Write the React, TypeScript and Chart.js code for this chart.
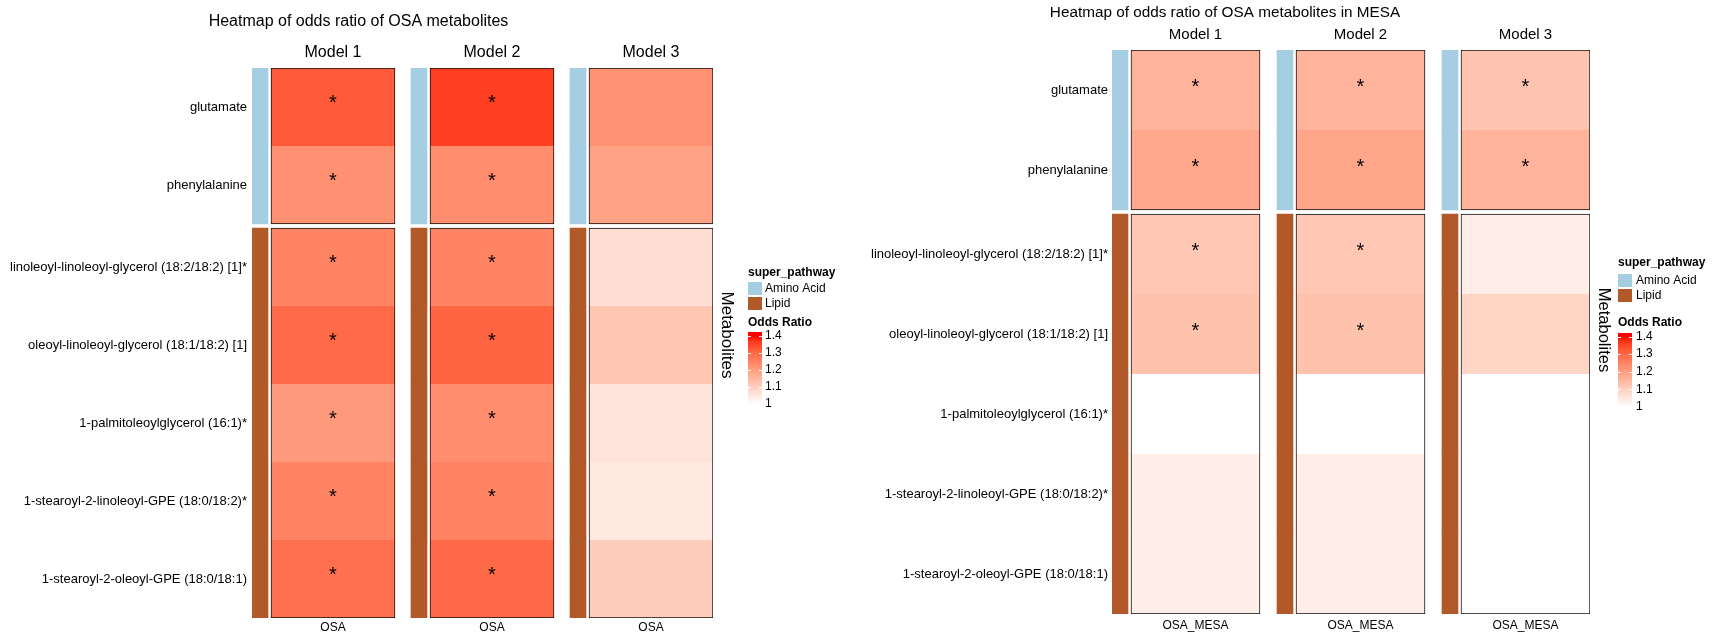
import React, { useEffect, useRef } from 'react';
import { Chart, registerables } from 'chart.js';

Chart.register(...registerables);

const FONT = '"Liberation Sans", Arial, Helvetica, sans-serif';

// ---------------- data ----------------
const metabolites = [
  'glutamate',
  'phenylalanine',
  'linoleoyl-linoleoyl-glycerol (18:2/18:2) [1]*',
  'oleoyl-linoleoyl-glycerol (18:1/18:2) [1]',
  '1-palmitoleoylglycerol (16:1)*',
  '1-stearoyl-2-linoleoyl-GPE (18:0/18:2)*',
  '1-stearoyl-2-oleoyl-GPE (18:0/18:1)',
];
const superPathway = ['Amino Acid', 'Amino Acid', 'Lipid', 'Lipid', 'Lipid', 'Lipid', 'Lipid'];
const models = ['Model 1', 'Model 2', 'Model 3'];
const pathwayLegend = ['Amino Acid', 'Lipid'];
const pathwayColors = ['#A6CEE3', '#B15928'];
const oddsTicks = [1.4, 1.3, 1.2, 1.1, 1];

// OSA (left panel)
const osaModel1 = [1.32, 1.226, 1.25, 1.296, 1.21, 1.25, 1.285];
const osaModel2 = [1.36, 1.233, 1.25, 1.306, 1.233, 1.25, 1.298];
const osaModel3 = [1.224, 1.193, 1.068, 1.12, 1.056, 1.047, 1.105];
const osaSig1 = [1, 1, 1, 1, 1, 1, 1];
const osaSig2 = [1, 1, 1, 1, 1, 1, 1];
const osaSig3 = [0, 0, 0, 0, 0, 0, 0];

// OSA in MESA (right panel)
const mesaModel1 = [1.157, 1.18, 1.117, 1.128, 0.99, 1.037, 1.037];
const mesaModel2 = [1.157, 1.185, 1.117, 1.128, 0.99, 1.037, 1.037];
const mesaModel3 = [1.124, 1.157, 1.035, 1.088, 0.99, 0.99, 0.99];
const mesaSig1 = [1, 1, 1, 1, 0, 0, 0];
const mesaSig2 = [1, 1, 1, 1, 0, 0, 0];
const mesaSig3 = [1, 1, 0, 0, 0, 0, 0];

// ---------------- colour (white -> red, LAB interpolation) ----------------
function srgbToLin(c: number) {
  c /= 255;
  return c <= 0.04045 ? c / 12.92 : Math.pow((c + 0.055) / 1.055, 2.4);
}
function linToSrgb(c: number) {
  c = Math.min(1, Math.max(0, c));
  const v = c <= 0.0031308 ? 12.92 * c : 1.055 * Math.pow(c, 1 / 2.4) - 0.055;
  return Math.round(v * 255);
}
const Xn = 0.95047, Yn = 1, Zn = 1.08883;
function toLab(rgb: number[]) {
  const [R, G, B] = rgb.map(srgbToLin);
  const X = 0.4124 * R + 0.3576 * G + 0.1805 * B;
  const Y = 0.2126 * R + 0.7152 * G + 0.0722 * B;
  const Z = 0.0193 * R + 0.1192 * G + 0.9505 * B;
  const f = (t: number) => (t > 0.008856 ? Math.cbrt(t) : 7.787 * t + 16 / 116);
  const fx = f(X / Xn), fy = f(Y / Yn), fz = f(Z / Zn);
  return [116 * fy - 16, 500 * (fx - fy), 200 * (fy - fz)];
}
function fromLab(lab: number[]) {
  const [L, a, b] = lab;
  const fy = (L + 16) / 116, fx = fy + a / 500, fz = fy - b / 200;
  const fi = (t: number) => (t * t * t > 0.008856 ? t * t * t : (t - 16 / 116) / 7.787);
  const X = Xn * fi(fx), Y = Yn * fi(fy), Z = Zn * fi(fz);
  const R = 3.2406 * X - 1.5372 * Y - 0.4986 * Z;
  const G = -0.9689 * X + 1.8758 * Y + 0.0415 * Z;
  const Bc = 0.0557 * X - 0.204 * Y + 1.057 * Z;
  return `rgb(${linToSrgb(R)},${linToSrgb(G)},${linToSrgb(Bc)})`;
}
const LOW_LAB = toLab([255, 255, 255]);
const HIGH_LAB = toLab([255, 0, 0]);
const ODDS_MIN = Math.min(...oddsTicks);
const ODDS_MAX = Math.max(...oddsTicks);
function oddsColor(v: number) {
  const t = Math.min(1, Math.max(0, (v - ODDS_MIN) / (ODDS_MAX - ODDS_MIN)));
  return fromLab(LOW_LAB.map((l, k) => l + (HIGH_LAB[k] - l) * t));
}

// ---------------- panel layouts ----------------
const leftCfg = {
  left: 0, width: 860, height: 634,
  plotLeft: 252, top: 68, rowPx: 78, gapPx: 4,
  annoW: 16, annoGap: 3, heatW: 124, colGap: 16,
  labelPad: 5, topPad: 6, bottomPad: 2,
  modelSize: 16, titleSize: 16, metabSize: 17, starDy: -4,
  values: [osaModel1, osaModel2, osaModel3],
  sig: [osaSig1, osaSig2, osaSig3],
  xLabel: 'OSA',
  title: 'Heatmap of odds ratio of OSA metabolites', titleX: 358.5, titleY: 22,
  metabX: 727, metabY: 335,
  legend: { x: 748, w: 14, textX: 765, pathTitleY: 273, swatchY: [282, 297], swatchH: 13,
    oddsTitleY: 323, barTop: 332, barBottom: 405, y14: 336, y1: 404 },
};
const rightCfg = {
  left: 860, width: 857, height: 634,
  plotLeft: 252, top: 50, rowPx: 80, gapPx: 4,
  annoW: 16, annoGap: 3, heatW: 129, colGap: 17,
  labelPad: 4, topPad: 6.5, bottomPad: 4,
  modelSize: 15, titleSize: 15.3, metabSize: 16.5, starDy: -2.5,
  values: [mesaModel1, mesaModel2, mesaModel3],
  sig: [mesaSig1, mesaSig2, mesaSig3],
  xLabel: 'OSA_MESA',
  title: 'Heatmap of odds ratio of OSA metabolites in MESA', titleX: 365, titleY: 12.5,
  metabX: 744, metabY: 330,
  legend: { x: 758, w: 14, textX: 776, pathTitleY: 263, swatchY: [274, 289], swatchH: 13,
    oddsTitleY: 323, barTop: 333, barBottom: 407, y14: 336.5, y1: 407 },
};

function buildConfig(cfg: any): any {
  const n = metabolites.length;
  const gapUnits = cfg.gapPx / cfg.rowPx;
  const groupIdx: number[] = [];
  let g = 0;
  superPathway.forEach((p, i) => {
    if (i > 0 && p !== superPathway[i - 1]) g++;
    groupIdx.push(g);
  });
  const nGroups = g + 1;
  const center = (i: number) => i + groupIdx[i] * gapUnits + 0.5;
  const yMax = n + (nGroups - 1) * gapUnits;
  const isGroupStart = (i: number) => i === 0 || superPathway[i] !== superPathway[i - 1];
  const isGroupEnd = (i: number) => i === n - 1 || superPathway[i] !== superPathway[i + 1];

  const period = cfg.annoW + cfg.annoGap + cfg.heatW + cfg.colGap;
  const xMax = models.length * period - cfg.colGap;
  const annoRange = (m: number) => [m * period, m * period + cfg.annoW];
  const heatStart = (m: number) => m * period + cfg.annoW + cfg.annoGap;
  const heatRange = (m: number) => [heatStart(m), heatStart(m) + cfg.heatW];
  const heatCenter = (m: number) => heatStart(m) + cfg.heatW / 2;

  const plotH = n * cfg.rowPx + (nGroups - 1) * cfg.gapPx;
  const plotBottom = cfg.top + plotH;
  const plotRight = cfg.plotLeft + xMax;

  const datasets: any[] = [];
  const heatIdx: number[] = [];
  models.forEach((model, m) => {
    datasets.push({
      label: `super_pathway ${model}`,
      data: metabolites.map((_, i) => ({ y: center(i), x: annoRange(m) })),
      backgroundColor: superPathway.map((p) => pathwayColors[pathwayLegend.indexOf(p)]),
      borderWidth: 0,
      barPercentage: 1,
      categoryPercentage: 1,
      grouped: false,
    });
    heatIdx.push(datasets.length);
    datasets.push({
      label: model,
      data: cfg.values[m].map((v: number, i: number) => ({ y: center(i), x: heatRange(m), odds: v })),
      backgroundColor: cfg.values[m].map(oddsColor),
      borderColor: '#111',
      borderWidth: (ctx: any) => ({
        left: 1, right: 1,
        top: isGroupStart(ctx.dataIndex) ? 1 : 0,
        bottom: isGroupEnd(ctx.dataIndex) ? 1 : 0,
      }),
      borderSkipped: false,
      barPercentage: 1,
      categoryPercentage: 1,
      grouped: false,
      sig: cfg.sig[m],
    });
  });

  const heatTicks = (s: any) => {
    s.ticks = models.map((_, m) => ({ value: heatCenter(m) }));
  };

  const decor = {
    id: 'decor',
    afterDatasetsDraw(chart: any) {
      const ctx = chart.ctx;
      ctx.save();
      ctx.fillStyle = '#000';
      ctx.font = `20px ${FONT}`;
      ctx.textAlign = 'center';
      ctx.textBaseline = 'middle';
      heatIdx.forEach((di) => {
        const meta = chart.getDatasetMeta(di);
        const sig = chart.data.datasets[di].sig;
        meta.data.forEach((el: any, i: number) => {
          if (!sig[i]) return;
          const p = el.getProps(['x', 'base', 'y'], true);
          ctx.fillText('*', (p.x + p.base) / 2, p.y + cfg.starDy);
        });
      });
      ctx.restore();
    },
    afterDraw(chart: any) {
      const ctx = chart.ctx;
      const L = cfg.legend;
      ctx.save();
      ctx.fillStyle = '#000';
      ctx.textBaseline = 'middle';
      // title
      ctx.textAlign = 'center';
      ctx.font = `${cfg.titleSize}px ${FONT}`;
      ctx.fillText(cfg.title, cfg.titleX, cfg.titleY);
      // row title
      ctx.save();
      ctx.translate(cfg.metabX, cfg.metabY);
      ctx.rotate(Math.PI / 2);
      ctx.font = `${cfg.metabSize}px ${FONT}`;
      ctx.fillText('Metabolites', 0, 0);
      ctx.restore();
      // legend: super_pathway
      ctx.textAlign = 'left';
      ctx.font = `bold 12px ${FONT}`;
      ctx.fillText('super_pathway', L.x, L.pathTitleY);
      ctx.font = `12px ${FONT}`;
      pathwayLegend.forEach((p, k) => {
        ctx.fillStyle = pathwayColors[k];
        ctx.fillRect(L.x, L.swatchY[k], L.w, L.swatchH);
        ctx.fillStyle = '#000';
        ctx.fillText(p, L.textX, L.swatchY[k] + L.swatchH / 2);
      });
      // legend: odds ratio colour bar
      ctx.font = `bold 12px ${FONT}`;
      ctx.fillText('Odds Ratio', L.x, L.oddsTitleY);
      const yOf = (v: number) => L.y1 - ((v - ODDS_MIN) / (ODDS_MAX - ODDS_MIN)) * (L.y1 - L.y14);
      const grad = ctx.createLinearGradient(0, yOf(ODDS_MAX), 0, yOf(ODDS_MIN));
      for (let s = 0; s <= 20; s++) {
        const t = s / 20;
        grad.addColorStop(t, oddsColor(ODDS_MAX - (ODDS_MAX - ODDS_MIN) * t));
      }
      ctx.fillStyle = grad;
      ctx.fillRect(L.x, L.barTop, L.w, L.barBottom - L.barTop);
      ctx.strokeStyle = '#fff';
      ctx.lineWidth = 1;
      ctx.font = `12px ${FONT}`;
      oddsTicks.forEach((v) => {
        const y = Math.round(yOf(v)) + 0.5;
        ctx.beginPath();
        ctx.moveTo(L.x, y); ctx.lineTo(L.x + 3, y);
        ctx.moveTo(L.x + L.w - 3, y); ctx.lineTo(L.x + L.w, y);
        ctx.stroke();
        ctx.fillStyle = '#000';
        ctx.fillText(String(v), L.textX, yOf(v));
      });
      ctx.restore();
    },
  };

  return {
    type: 'bar',
    data: { datasets },
    options: {
      indexAxis: 'y',
      responsive: false,
      animation: false,
      events: [],
      layout: { padding: { left: 0, top: 0, right: cfg.width - plotRight, bottom: 0 } },
      plugins: { legend: { display: false }, tooltip: { enabled: false }, title: { display: false } },
      scales: {
        x: {
          type: 'linear', position: 'bottom', min: 0, max: xMax, offset: false, beginAtZero: false,
          afterBuildTicks: heatTicks,
          afterFit: (s: any) => { s.height = cfg.height - plotBottom; },
          ticks: {
            callback: () => cfg.xLabel, autoSkip: false, maxRotation: 0, minRotation: 0,
            padding: cfg.bottomPad, color: '#000', font: { family: FONT, size: 12 },
          },
          grid: { display: false, drawTicks: false, offset: false },
          border: { display: false },
        },
        xTop: {
          type: 'linear', position: 'top', min: 0, max: xMax, offset: false,
          afterBuildTicks: heatTicks,
          afterFit: (s: any) => { s.height = cfg.top; },
          ticks: {
            callback: (_v: any, i: number) => models[i], autoSkip: false, maxRotation: 0, minRotation: 0,
            padding: cfg.topPad, color: '#000', font: { family: FONT, size: cfg.modelSize },
          },
          grid: { display: false, drawTicks: false, offset: false },
          border: { display: false },
        },
        y: {
          type: 'linear', position: 'left', reverse: true, min: 0, max: yMax, offset: false,
          afterBuildTicks: (s: any) => { s.ticks = metabolites.map((_, i) => ({ value: center(i) })); },
          afterFit: (s: any) => { s.width = cfg.plotLeft; },
          ticks: {
            callback: (_v: any, i: number) => metabolites[i], autoSkip: false,
            padding: cfg.labelPad, color: '#000', font: { family: FONT, size: 13 },
          },
          grid: { display: false, drawTicks: false, offset: false },
          border: { display: false },
        },
      },
    },
    plugins: [decor],
  };
}

function Panel({ cfg }: { cfg: any }) {
  const ref = useRef<HTMLCanvasElement | null>(null);
  useEffect(() => {
    if (!ref.current) return;
    const chart = new Chart(ref.current, buildConfig(cfg));
    return () => chart.destroy();
  }, [cfg]);
  return (
    <canvas
      ref={ref}
      width={cfg.width}
      height={cfg.height}
      style={{ position: 'absolute', left: cfg.left, top: 0, width: cfg.width, height: cfg.height }}
    />
  );
}

export default function App() {
  return (
    <div style={{ position: 'absolute', left: 0, top: 0, width: 1717, height: 634, background: '#fff' }}>
      <Panel cfg={leftCfg} />
      <Panel cfg={rightCfg} />
    </div>
  );
}
